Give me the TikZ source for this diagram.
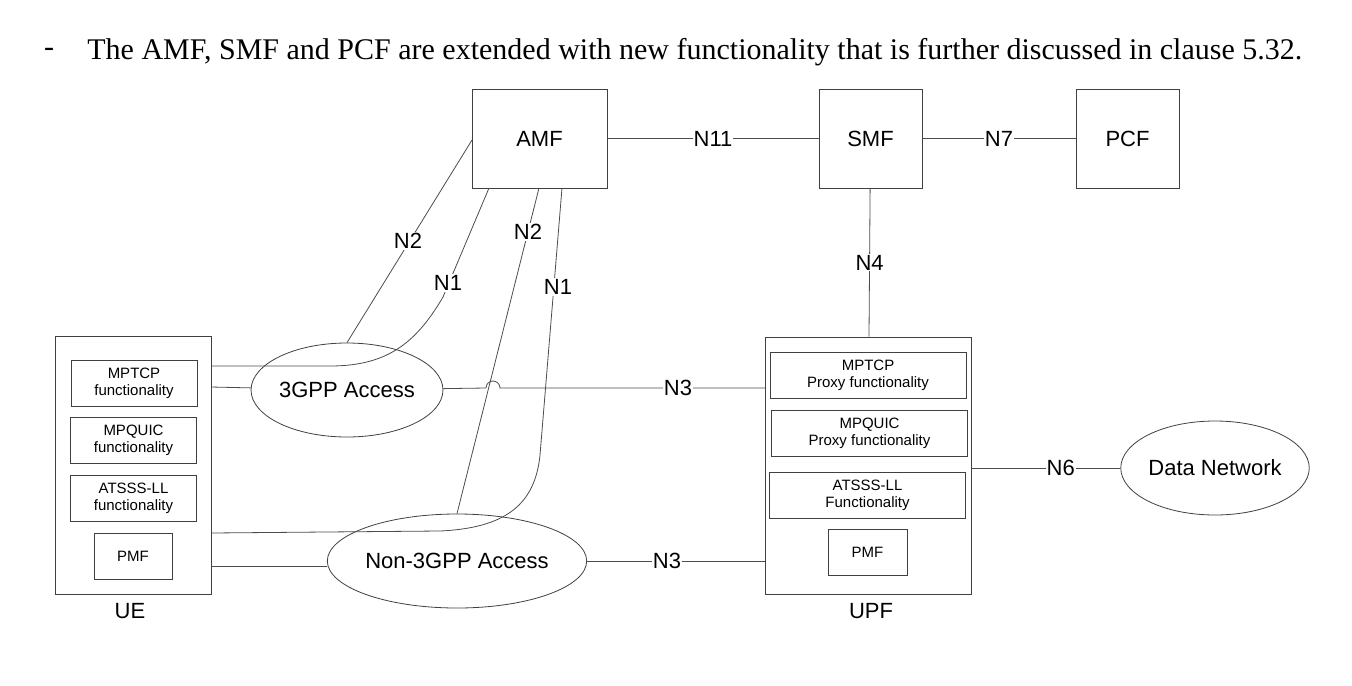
\documentclass[tikz,border=0pt]{standalone}
\usepackage{fontspec}
\setmainfont{Liberation Sans}
\newfontfamily\timesfont{Liberation Serif}
\usetikzlibrary{shapes.geometric}
\tikzset{
  nf/.style={draw, thin, draw=black!75, minimum width=#1, minimum height=49.5pt, font=\fontsize{11}{13}\selectfont},
  inner/.style={draw, thin, draw=black!75, minimum width=#1, minimum height=23pt, align=center, inner sep=1pt, font=\fontsize{7.5}{8.5}\selectfont},
  acc/.style={ellipse, draw, thin, draw=black!75, minimum width=#1, minimum height=47pt, inner sep=0pt, font=\fontsize{11}{13}\selectfont},
  lbl/.style={fill=white, inner sep=0.5pt, font=\fontsize{11}{13}\selectfont},
  ln/.style={thin, draw=black!70}
}
\begin{document}
\begin{tikzpicture}[x=0.5pt, y=-0.5pt]
        \useasboundingbox (0,0) rectangle (1352,685);

        \node[font=\timesfont\fontsize{15}{18}\selectfont] (dash) at (49,52) {-};
        \node[anchor=west, inner sep=0pt, font=\timesfont\fontsize{15}{18}\selectfont] (txt) at (87,52) {The AMF, SMF and PCF are extended with new functionality that is further discussed in clause 5.32.};

        \node[nf=67.5pt] (amf) at (539.5,138.5) {AMF};
        \node[nf=51.5pt] (smf) at (870.5,138.5) {SMF};
        \node[nf=51.5pt] (pcf) at (1127.5,138.5) {PCF};

        \node[draw, thin, draw=black!75, minimum width=78pt, minimum height=129pt] (ue) at (133,465) {};
        \node[inner=63pt] (uetcp) at (134,383) {MPTCP\\functionality};
        \node[inner=63pt] (uequic) at (133.5,440) {MPQUIC\\functionality};
        \node[inner=63pt] (ueatsss) at (133.5,498) {ATSSS-LL\\functionality};
        \node[inner=39pt] (uepmf) at (133,556) {PMF};
        \node[font=\fontsize{11}{13}\selectfont] (uelbl) at (130,611) {UE};

        \node[draw, thin, draw=black!75, minimum width=103pt, minimum height=128.5pt] (upf) at (868,465.5) {};
        \node[inner=98pt] (upftcp) at (868,375) {MPTCP\\Proxy functionality};
        \node[inner=98pt] (upfquic) at (869.5,433) {MPQUIC\\Proxy functionality};
        \node[inner=98pt] (upfatsss) at (867.5,495) {ATSSS-LL\\Functionality};
        \node[inner=39.5pt] (upfpmf) at (867.5,552.5) {PMF};
        \node[font=\fontsize{11}{13}\selectfont] (upflbl) at (871,611) {UPF};

        \node[acc=86pt] (acc3) at (347,390) {3GPP Access};
        \node[acc=110pt] (accn) at (457,561) {Non-3GPP Access};
        \node[acc=86pt] (dn) at (1215,468) {Data Network};

        % interface end points
        \coordinate (ue1) at (211,366);
        \coordinate (ue2) at (211,387);
        \coordinate (ue3) at (211,533);
        \coordinate (ue4) at (211,566);
        \coordinate (upf1) at (765,388);
        \coordinate (upf2) at (765,561);
        \coordinate (amfw) at (472,140);
        \coordinate (amfs1) at (489,188);
        \coordinate (amfs2) at (539,188);
        \coordinate (amfs3) at (562,188);

        \draw[ln] (amf) -- node[lbl]{N11} (smf);
        \draw[ln] (smf) -- node[lbl]{N7} (pcf);
        \draw[ln] (smf) -- node[lbl, pos=0.5]{N4} (upf);
        \draw[ln] (upf.east |- dn) -- node[lbl, pos=0.6]{N6} (dn);

        \draw[ln] (ue2) -- (acc3);
        \draw[ln] (ue4) -- (accn.west |- ue4);
        \draw[ln] (acc3) -- (486,388) arc[start angle=180, end angle=0, radius=3.5pt] -- (upf1);
        \node[lbl] (n3a) at (678,388) {N3};
        \draw[ln] (accn.east) -- (upf2);
        \node[lbl] (n3b) at (667,561) {N3};

        \draw[ln] (amfw) -- (acc3.north);
        \node[lbl] (n2a) at (408,241) {N2};
        \draw[ln] (amfs1) -- (443,297) .. controls (415,345) and (385,366) .. (330,366) -- (ue1);
        \node[lbl] (n1a) at (448,283) {N1};
        \draw[ln] (amfs2) -- (accn.north);
        \node[lbl] (n2b) at (528,232) {N2};
        \draw[ln] (amfs3) -- (540,455) .. controls (535,505) and (505,528) .. (440,531) -- (ue3);
        \node[lbl] (n1b) at (558,287) {N1};
\end{tikzpicture}
\end{document}
